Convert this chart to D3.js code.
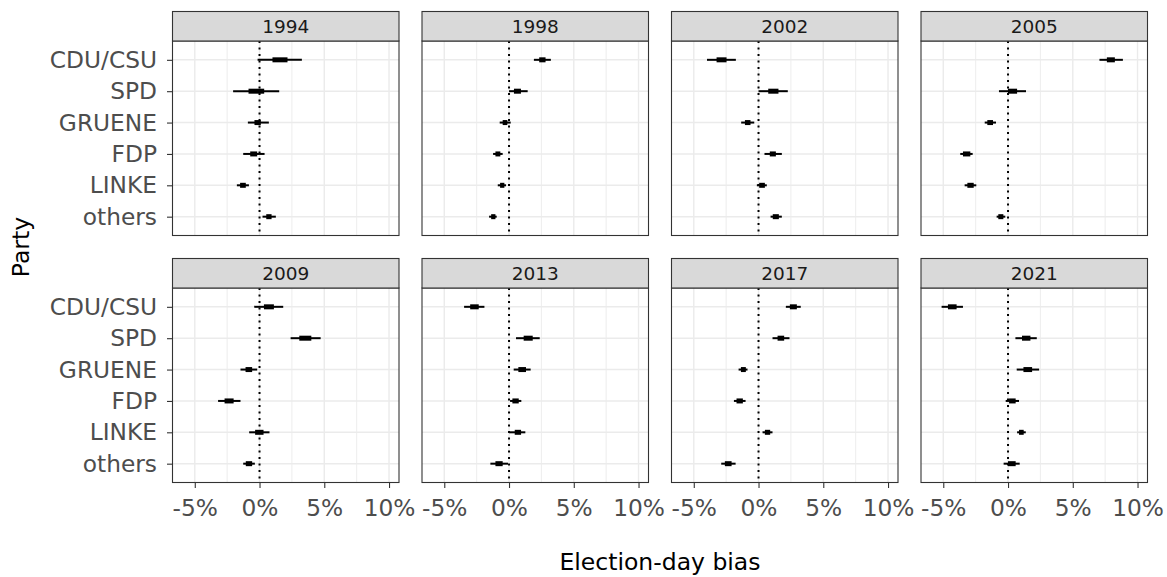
<!DOCTYPE html>
<html>
<head>
<meta charset="utf-8">
<script src="https://cdn.jsdelivr.net/npm/d3@7"></script>
<style>
  body { margin: 0; background: #fff; }
  svg { font-family: "DejaVu Sans", sans-serif; }
</style>
</head>
<body>
<div id="chart"></div>
<script>
// data (percent)
const years = ["1994", "1998", "2002", "2005", "2009", "2013", "2017", "2021"];
const parties = ["CDU/CSU", "SPD", "GRUENE", "FDP", "LINKE", "others"];
const xTicks = [-5, 0, 5, 10];
const xMinor = [-2.5, 2.5, 7.5];

// one row per year, one value per party
const outerLow = [
  [-0.15, -2.04, -0.9, -1.26, -1.75, 0.23],
  [1.92, 0, -0.72, -1.23, -0.87, -1.54],
  [-3.98, 0, -1.34, 0.46, -0.13, 0.93],
  [7.06, -0.7, -1.8, -3.69, -3.35, -0.88],
  [-0.41, 2.4, -1.47, -3.2, -0.8, -1.26],
  [-3.47, 0.54, 0.36, 0.08, 0, -1.44],
  [2.11, 1.08, -1.54, -1.9, 0.31, -2.88],
  [-5.13, 0.57, 0.67, -0.18, 0.7, -0.34]
];
const innerLow = [
  [1.0, -0.85, -0.39, -0.72, -1.5, 0.52],
  [2.33, 0.38, -0.49, -1.05, -0.69, -1.38],
  [-3.24, 0.75, -1.05, 0.87, 0.05, 1.1],
  [7.63, 0, -1.6, -3.48, -3.14, -0.75],
  [0.34, 3.07, -1.08, -2.7, -0.34, -1.06],
  [-3.0, 1.13, 0.72, 0.26, 0.44, -1.05],
  [2.42, 1.47, -1.36, -1.7, 0.49, -2.6],
  [-4.64, 1.08, 1.19, 0.08, 0.85, 0]
];
const innerHigh = [
  [2.16, 0.36, 0.1, -0.18, -1.06, 0.93],
  [2.82, 0.92, -0.13, -0.67, -0.36, -1.05],
  [-2.47, 1.54, -0.62, 1.34, 0.49, 1.57],
  [8.25, 0.7, -1.16, -2.91, -2.65, -0.36],
  [1.11, 4.0, -0.57, -2.0, 0.31, -0.57],
  [-2.34, 1.83, 1.31, 0.75, 0.93, -0.49],
  [2.96, 1.98, -0.98, -1.21, 0.9, -2.08],
  [-3.97, 1.73, 1.86, 0.59, 1.21, 0.59]
];
const outerHigh = [
  [3.27, 1.52, 0.72, 0.39, -0.82, 1.26],
  [3.23, 1.44, 0.13, -0.49, -0.23, -0.95],
  [-1.75, 2.26, -0.33, 1.8, 0.64, 1.8],
  [8.87, 1.39, -0.93, -2.73, -2.45, -0.21],
  [1.83, 4.72, -0.18, -1.47, 0.77, -0.36],
  [-1.9, 2.37, 1.67, 0.95, 1.26, -0.08],
  [3.26, 2.39, -0.85, -1.0, 1.08, -1.77],
  [-3.48, 2.22, 2.4, 0.85, 1.37, 0.9]
];

// layout
const width = 1167, height = 577;
const left = 172.5, panelW = 226.5, gapX = 23;
const panelH = 194.5, stripH = 29.5;
const rowTop = [41, 288];
const axisFont = 23.3;

const svg = d3.select("#chart").append("svg")
  .attr("width", width)
  .attr("height", height);

// scales shared by all panels
const x = d3.scaleLinear().domain([-6.72, 10.77]).range([0, panelW]);
const y = d3.scalePoint().domain(parties).range([0, panelH]).padding(0.6);

years.forEach(function(year, i){
  const col = i % 4, row = Math.floor(i / 4);
  const g = svg.append("g")
    .attr("transform", "translate(" + (left + col * (panelW + gapX)) + "," + rowTop[row] + ")");

  // background grid
  g.selectAll(".minor").data(xMinor).enter().append("line")
    .attr("x1", d => x(d)).attr("x2", d => x(d))
    .attr("y1", 0).attr("y2", panelH)
    .attr("stroke", "#ebebeb").attr("stroke-width", 0.9);
  g.selectAll(".major").data(xTicks).enter().append("line")
    .attr("x1", d => x(d)).attr("x2", d => x(d))
    .attr("y1", 0).attr("y2", panelH)
    .attr("stroke", "#ebebeb").attr("stroke-width", 1.4);
  g.selectAll(".hgrid").data(parties).enter().append("line")
    .attr("x1", 0).attr("x2", panelW)
    .attr("y1", d => y(d)).attr("y2", d => y(d))
    .attr("stroke", "#ebebeb").attr("stroke-width", 1.4);

  // dotted zero line
  g.append("line")
    .attr("x1", x(0)).attr("x2", x(0))
    .attr("y1", 0).attr("y2", panelH)
    .attr("stroke", "#000").attr("stroke-width", 2)
    .attr("stroke-dasharray", "2,4.5");

  // intervals
  g.selectAll(".outer").data(parties).enter().append("line")
    .attr("x1", (d, j) => x(outerLow[i][j]))
    .attr("x2", (d, j) => x(outerHigh[i][j]))
    .attr("y1", d => y(d)).attr("y2", d => y(d))
    .attr("stroke", "#000").attr("stroke-width", 2);
  g.selectAll(".inner").data(parties).enter().append("line")
    .attr("x1", (d, j) => x(innerLow[i][j]))
    .attr("x2", (d, j) => x(innerHigh[i][j]))
    .attr("y1", d => y(d)).attr("y2", d => y(d))
    .attr("stroke", "#000").attr("stroke-width", 5);

  // panel border
  g.append("rect")
    .attr("width", panelW).attr("height", panelH)
    .attr("fill", "none").attr("stroke", "#333").attr("stroke-width", 1.1);

  // strip
  g.append("rect")
    .attr("y", -stripH).attr("width", panelW).attr("height", stripH)
    .attr("fill", "#d9d9d9").attr("stroke", "#333").attr("stroke-width", 1.1);
  g.append("text")
    .attr("x", panelW / 2).attr("y", -stripH / 2)
    .attr("dy", "0.36em")
    .attr("text-anchor", "middle")
    .attr("fill", "#1a1a1a")
    .style("font-size", "18.5px")
    .text(year);

  // axes on outer panels only
  if(col === 0){
    const ay = g.append("g").call(d3.axisLeft(y).tickSize(5.5).tickPadding(10));
    ay.select(".domain").remove();
    ay.selectAll("line").attr("stroke", "#333").attr("stroke-width", 1.1);
    ay.selectAll("text").attr("fill", "#4d4d4d")
      .style("font-size", axisFont + "px").style("font-family", "DejaVu Sans");
  }
  if(row === 1){
    const ax = g.append("g")
      .attr("transform", "translate(0," + panelH + ")")
      .call(d3.axisBottom(x).tickValues(xTicks).tickSize(5.5).tickPadding(11.4)
        .tickFormat(d => d + "%"));
    ax.select(".domain").remove();
    ax.selectAll("line").attr("stroke", "#333").attr("stroke-width", 1.1);
    ax.selectAll("text").attr("fill", "#4d4d4d")
      .style("font-size", axisFont + "px").style("font-family", "DejaVu Sans");
  }
});

// axis titles
svg.append("text")
  .attr("x", (left + 3 * (panelW + gapX) + panelW + left) / 2)
  .attr("y", 570)
  .attr("text-anchor", "middle")
  .style("font-size", "23.5px")
  .text("Election-day bias");

svg.append("text")
  .attr("transform", "translate(29,247) rotate(-90)")
  .attr("text-anchor", "middle")
  .style("font-size", "23.5px")
  .text("Party");
</script>
</body>
</html>
